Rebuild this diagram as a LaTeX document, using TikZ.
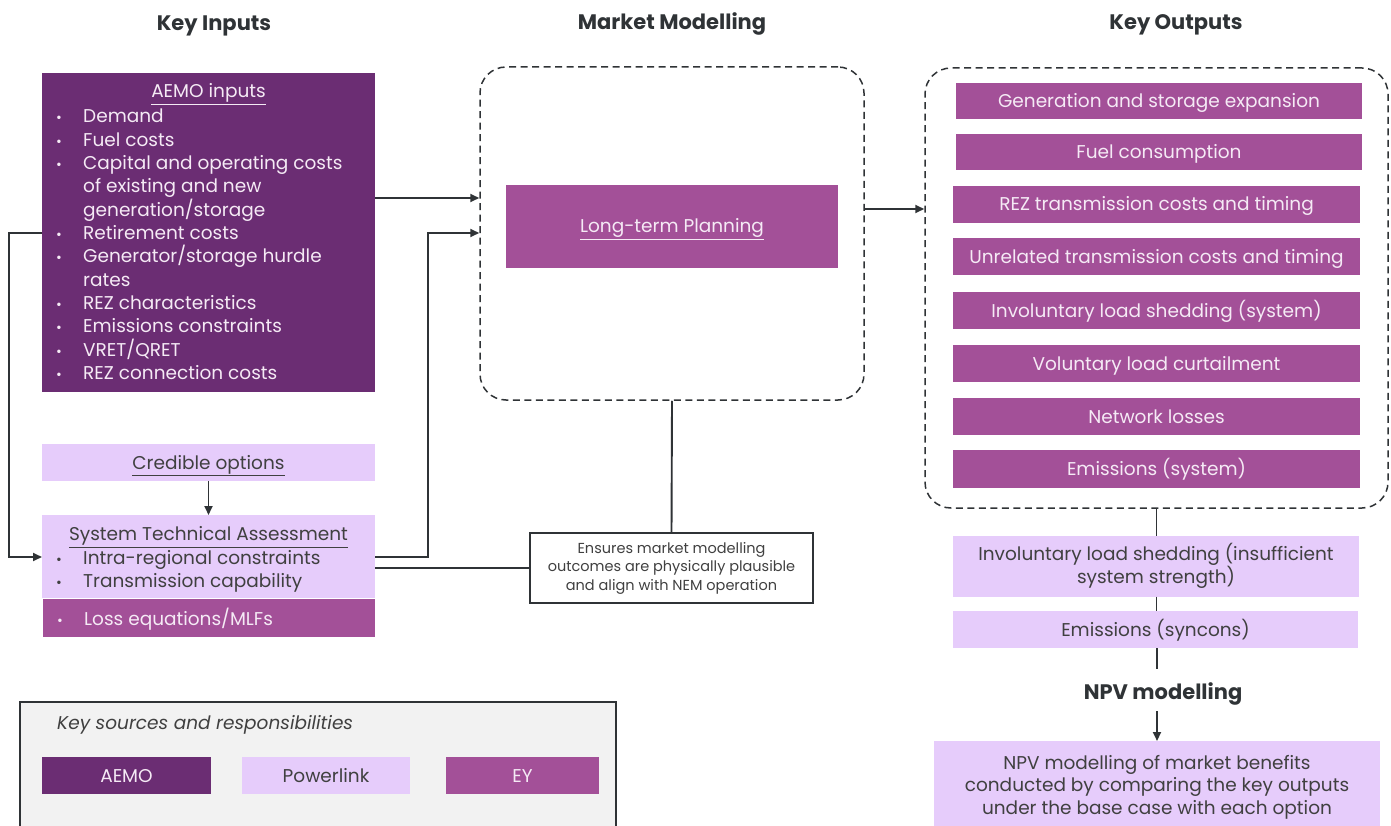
\documentclass[tikz,border=0pt]{standalone}
\usepackage{fontspec}
\setmainfont{Poppins}
\usetikzlibrary{arrows.meta}

\definecolor{aemoC}{HTML}{6B2D73}
\definecolor{eyC}{HTML}{A35098}
\definecolor{plC}{HTML}{E6CCFB}
\definecolor{lineC}{HTML}{2F3336}
\definecolor{lightTxt}{HTML}{F5EAF5}
\definecolor{darkTxt}{HTML}{404040}
\definecolor{legendBg}{HTML}{F2F2F2}

\newcommand{\fs}[2]{\fontsize{#1}{#2}\selectfont}

\begin{document}
\begin{tikzpicture}[x=1pt,y=-1pt,
  cellm/.style={rectangle, inner sep=0pt, outer sep=0pt, align=center},
  cell/.style={cellm, text height=13pt, text depth=0pt},
  aemobox/.style={cell, fill=aemoC, text=lightTxt, font=\fs{18.5}{23}},
  eybox/.style={cell, fill=eyC, text=lightTxt, font=\fs{18.5}{23}},
  plbox/.style={cell, fill=plC, text=darkTxt, font=\fs{18.5}{23}},
  head/.style={font=\bfseries\fs{21}{25}, text=lineC, inner sep=0pt, text height=15pt, text depth=0pt},
  frame/.style={rectangle, draw=lineC, line width=1.5pt, dash pattern=on 7pt off 4.5pt, rounded corners=26pt, inner sep=0pt},
  conn/.style={draw=lineC, line width=1.9pt},
  arr/.style={conn, -{Triangle[length=9pt,width=8pt]}},
  lineL/.style={anchor=base west, inner sep=0pt, font=\fs{18.5}{23}},
  bul/.style={anchor=base, inner sep=0pt, font=\fs{14}{16}}
]
\useasboundingbox (0,0) rectangle (1391,826);
\clip (0,0) rectangle (1391,826);

% column headings
\node[head] (hIn)  at (214,23) {Key Inputs};
\node[head] (hMM)  at (672,22) {Market Modelling};
\node[head] (hOut) at (1176,22) {Key Outputs};

% ---------- key inputs ----------
\node[aemobox, minimum width=333pt, minimum height=319pt] (aemo) at (208.5,232.5) {};
\node[text=lightTxt, font=\fs{18.5}{23}, inner sep=0pt] (aemoT) at (208.5,94) {\underline{AEMO inputs}};
\foreach \b/\t [count=\i] in {1/Demand, 1/Fuel costs, 1/Capital and operating costs,
    0/of existing and new, 0/generation\slash storage, 1/Retirement costs,
    1/Generator\slash storage hurdle, 0/rates, 1/REZ characteristics,
    1/Emissions constraints, 1/VRET\slash QRET, 1/REZ connection costs}{
  \node[lineL, text=lightTxt] (al\i) at (83,99.7+23.3*\i) {\t};
  \ifnum\b=1 \node[bul, text=lightTxt] (ab\i) at (59,99.7+23.3*\i) {\textbullet}; \fi
}

\node[plbox, minimum width=333pt, minimum height=37pt] (cred) at (208.5,462.5) {\underline{Credible options}};

\node[plbox, minimum width=333pt, minimum height=83pt] (sta) at (208.5,556.5) {};
\node[text=darkTxt, font=\fs{18.5}{23}, inner sep=0pt] (staT) at (208.5,537) {\underline{System Technical Assessment}};
\node[lineL, text=darkTxt] (sl1) at (83,564) {Intra-regional constraints};
\node[bul, text=darkTxt] (sb1) at (59,564) {\textbullet};
\node[lineL, text=darkTxt] (sl2) at (83,587) {Transmission capability};
\node[bul, text=darkTxt] (sb2) at (59,587) {\textbullet};

\node[eybox, minimum width=332pt, minimum height=38pt] (loss) at (209,618) {};
\node[lineL, text=lightTxt] (ll1) at (84,625) {Loss equations\slash MLFs};
\node[bul, text=lightTxt] (lb1) at (60,625) {\textbullet};

% ---------- market modelling ----------
\node[frame, minimum width=384pt, minimum height=333pt] (market) at (672,233.5) {};
\node[eybox, minimum width=332pt, minimum height=83pt] (ltp) at (672,226.5) {\underline{Long-term Planning}};
\node[cellm, draw=lineC, line width=1.5pt, fill=white, text=darkTxt, font=\fs{14.5}{18.5},
      minimum width=283pt, minimum height=70pt] (ens) at (671.5,568)
  {Ensures market modelling\\outcomes are physically plausible\\and align with NEM operation};

% ---------- key outputs ----------
\node[frame, minimum width=463pt, minimum height=440pt] (outs) at (1156.5,288) {};
\node[eybox, minimum width=406pt, minimum height=36pt] (o1) at (1159,101) {Generation and storage expansion};
\node[eybox, minimum width=406pt, minimum height=36pt] (o2) at (1159,152) {Fuel consumption};
\node[eybox, minimum width=407pt, minimum height=37pt] (o3) at (1156.5,204.5) {REZ transmission costs and timing};
\node[eybox, minimum width=407pt, minimum height=37pt] (o4) at (1156.5,256.5) {Unrelated transmission costs and timing};
\node[eybox, minimum width=407pt, minimum height=37pt] (o5) at (1156.5,310.5) {Involuntary load shedding (system)};
\node[eybox, minimum width=407pt, minimum height=37pt] (o6) at (1156.5,363.5) {Voluntary load curtailment};
\node[eybox, minimum width=407pt, minimum height=37pt] (o7) at (1156.5,416.5) {Network losses};
\node[eybox, minimum width=407pt, minimum height=38pt] (o8) at (1156.5,469) {Emissions (system)};

\node[cellm, fill=plC, text=darkTxt, font=\fs{18.5}{23}, minimum width=406pt, minimum height=61pt] (o9) at (1156,566)
  {Involuntary load shedding (insufficient\\system strength)};
\node[plbox, minimum width=405pt, minimum height=37pt] (o10) at (1155.5,629.5) {Emissions (syncons)};

\node[head] (npvT) at (1163,692) {NPV modelling};
\coordinate (npvIn) at (1157,669);
\coordinate (npvOut) at (1157,711);

\node[cellm, fill=plC, minimum width=446pt, minimum height=100pt] (npv) at (1157,791) {};
\node[text=darkTxt, font=\fs{18.5}{22.5}, align=center, inner sep=0pt] (npvTxt) at (1157,787)
  {NPV modelling of market benefits\\conducted by comparing the key outputs\\under the base case with each option};

% ---------- legend ----------
\node[rectangle, draw=lineC, line width=1.5pt, fill=legendBg, anchor=north west,
      minimum width=596pt, minimum height=140pt, inner sep=0pt] (legend) at (19,701) {};
\node[anchor=base west, inner sep=0pt, text=darkTxt, font=\itshape\fs{18.5}{22}] (legT) at (57,729)
  {Key sources and responsibilities};
\node[aemobox, minimum width=169pt, minimum height=37pt] (kA) at (126.5,775.5) {AEMO};
\node[plbox, minimum width=168pt, minimum height=37pt] (kP) at (326,775.5) {Powerlink};
\node[eybox, minimum width=153pt, minimum height=37pt] (kE) at (522.5,775.5) {EY};

% ---------- connectors ----------
\coordinate (j1) at (428,233);
\coordinate (j2) at (9,233);
\coordinate (j3) at (9,557);
\draw[arr] (aemo.east |- 0,198) -- (market.west |- 0,198);
\draw[arr] (sta.east |- 0,557) -| (j1) -- (market.west |- j1);
\draw[conn] (sta.east |- 0,568) -- (ens.west |- 0,568);
\draw[arr] (aemo.west |- j2) -- (j2) -- (j3) -- (sta.west |- j3);
\draw[arr] (cred.south) -- (sta.north);
\draw[conn] (market.south) -- (ens.north);
\draw[arr] (market.east |- 0,209) -- (outs.west |- 0,209);
\draw[conn] (outs.south) -- (o9.north -| outs.south);
\draw[conn] (o9.south -| outs.south) -- (o10.north -| outs.south);
\draw[conn] (o10.south -| npvIn) -- (npvIn);
\draw[arr] (npvOut) -- (npv.north -| npvOut);
\end{tikzpicture}
\end{document}
